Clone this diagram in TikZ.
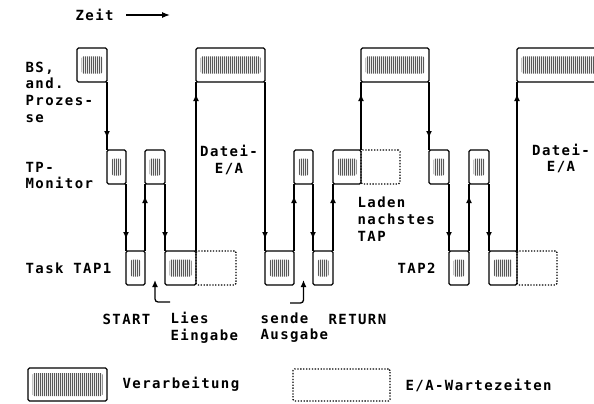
\documentclass[tikz,border=0pt]{standalone}
\usepackage{fontspec}
\newfontfamily\diafont[LetterSpace=10]{DejaVu Sans Mono}
\usetikzlibrary{arrows.meta, positioning, patterns, decorations.markings}
\pgfdeclarepatternformonly{bars}{\pgfpointorigin}{\pgfpoint{2.2pt}{1pt}}{\pgfpoint{2.2pt}{1pt}}{%
  \pgfpathrectangle{\pgfpointorigin}{\pgfpoint{1.5pt}{1pt}}\pgfusepath{fill}}
\tikzset{
  proc/.style={draw, rounded corners=1.5pt, inner sep=0pt, outer sep=0pt,
    path picture={\fill[pattern=bars]
      ([shift={(4.5pt,-#1)}]path picture bounding box.north west) rectangle
      ([shift={(-4.5pt,#1)}]path picture bounding box.south east);}},
  proc/.default=8.5pt,
  waitbox/.style={draw, dash pattern=on 1.3pt off 1.6pt, rounded corners=1.5pt,
    inner sep=0pt, outer sep=0pt},
  flow/.style={postaction={decorate}, decoration={markings,
    mark=at position -12pt with {\arrow{Latex[length=7pt,width=6pt]}}}},
  lab/.style={anchor=west, align=left, inner sep=0pt},
}

\begin{document}
\begin{tikzpicture}[x=1pt, y=-1pt, line width=1.3pt,
    font=\diafont\bfseries\fontsize{14}{16.7}\selectfont]
  \useasboundingbox (0,0) rectangle (594,404);
  \clip (0,0) rectangle (594,404);
  % time axis
  \node[lab] (zeit) at (75,15) {Zeit};
  \coordinate (zeitend) at (170,15);
  \draw[-{Latex[length=8pt,width=6pt]}] ([xshift=12pt]zeit.east) -- (zeitend);
  % row labels
  \node[lab] (bslab) at (25,92) {BS,\\and.\\Prozes-\\se};
  \node[lab] (tplab) at (25,175.5) {TP-\\Monitor};
  \node[lab] (tasklab) at (25,268) {Task TAP1};
  % BS, andere Prozesse
  \node[proc, minimum width=30, minimum height=34] (bs1) at (92,65) {};
  \node[proc, minimum width=69, minimum height=34] (bs2) at (230.5,65) {};
  \node[proc, minimum width=68, minimum height=34] (bs3) at (395,65) {};
  \node[proc, minimum width=123, minimum height=34] (bs4) at (578.5,65) {};
  % TP-Monitor
  \node[waitbox, minimum width=39, minimum height=34] (tp4w) at (380.5,167) {};
  \node[proc, minimum width=19, minimum height=34] (tp1) at (116.5,167) {};
  \node[proc, minimum width=20, minimum height=34] (tp2) at (155,167) {};
  \node[proc, minimum width=19, minimum height=34] (tp3) at (303.5,167) {};
  \node[proc, minimum width=28, minimum height=34] (tp4) at (347,167) {};
  \node[proc, minimum width=20, minimum height=34] (tp5) at (439,167) {};
  \node[proc, minimum width=20, minimum height=34] (tp6) at (479,167) {};
  % Tasks
  \node[waitbox, minimum width=40, minimum height=34] (task2w) at (216,268) {};
  \node[waitbox, minimum width=40, minimum height=34] (tap2bw) at (537,268) {};
  \node[proc, minimum width=19, minimum height=34] (task1) at (135.5,268) {};
  \node[proc, minimum width=31, minimum height=34] (task2) at (180.5,268) {};
  \node[proc, minimum width=29, minimum height=34] (task3) at (279.5,268) {};
  \node[proc, minimum width=20, minimum height=34] (task4) at (323,268) {};
  \node[proc, minimum width=20, minimum height=34] (tap2a) at (459,268) {};
  \node[proc, minimum width=28, minimum height=34] (tap2b) at (503,268) {};
  % control flow
  \draw[flow] (bs1.south east) -- (tp1.north west);
  \draw[flow] (tp1.south east) -- (task1.north west);
  \draw[flow] (task1.north east) -- (tp2.south west);
  \draw[flow] (tp2.south east) -- (task2.north west);
  \draw[flow] (task2.north east) -- (bs2.south west);
  \draw[flow] (bs2.south east) -- (task3.north west);
  \draw[flow] (task3.north east) -- (tp3.south west);
  \draw[flow] (tp3.south east) -- (task4.north west);
  \draw[flow] (task4.north east) -- (tp4.south west);
  \draw[flow] (tp4.north east) -- (bs3.south west);
  \draw[flow] (bs3.south east) -- (tp5.north west);
  \draw[flow] (tp5.south east) -- (tap2a.north west);
  \draw[flow] (tap2a.north east) -- (tp6.south west);
  \draw[flow] (tp6.south east) -- (tap2b.north west);
  \draw[flow] (tap2b.north east) -- (bs4.south west);
  % annotations
  \node[align=center, inner sep=0pt] (datei1) at (229,160) {Datei-\\E/A};
  \node[align=center, inner sep=0pt] (datei2) at (561,158.5) {Datei-\\E/A};
  \node[lab] (laden) at (357,219) {Laden\\nachstes\\TAP};
  \node[lab] (tap2lab) at (397,268) {TAP2};
  \node[lab] (start) at (102,319) {START};
  \node[lab] (lies) at (170,327.5) {Lies\\Eingabe};
  \node[lab] (sende) at (260,327.5) {sende\\Ausgabe};
  \node[lab] (ret) at (328,319) {RETURN};
  \coordinate (starttail) at (170,302);
  \coordinate (starttip) at (155,280);
  \draw[-{Latex[length=7pt,width=6pt]}, rounded corners=3pt] (starttail) -| (starttip);
  \coordinate (rettail) at (290,303);
  \coordinate (rettip) at (303.5,280);
  \draw[-{Latex[length=7pt,width=6pt]}, rounded corners=3pt] (rettail) -| (rettip);
  % legend
  \node[proc=5pt, minimum width=79, minimum height=33] (legproc) at (67.5,384.5) {};
  \node[lab, right=15pt of legproc] (verarb) {Verarbeitung};
  \node[waitbox, minimum width=97, minimum height=32] (legwait) at (341.5,385) {};
  \node[lab, right=15pt of legwait] (ewart) {E/A-Wartezeiten};
\end{tikzpicture}
\end{document}
